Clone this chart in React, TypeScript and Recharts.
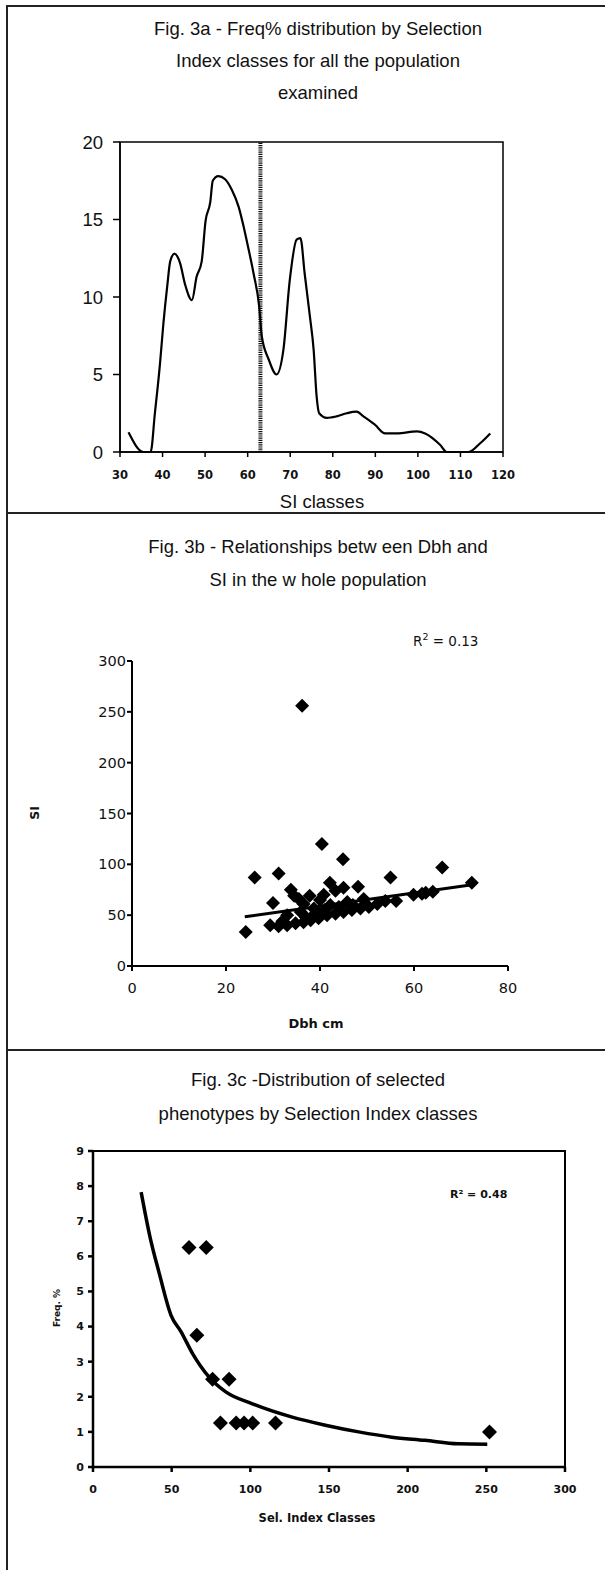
import React from "react";
import {
  LineChart,
  Line,
  ScatterChart,
  Scatter,
  XAxis,
  YAxis,
  ReferenceLine,
  ReferenceArea,
} from "recharts";

// Fig. 3a - freq% curve traced along SI classes
const siClass = [
  32.0, 35.5, 37.2, 38.2, 39.4, 40.2, 41.1, 41.8, 42.8, 44.1, 45.3, 46.9, 48.0, 49.2, 50.1, 51.2,
  51.8, 53.1, 54.7, 56.3, 57.9, 59.0, 60.2, 61.4, 62.7, 63.3, 64.9, 66.8, 68.4, 69.9, 71.5, 72.4,
  73.4, 74.6, 75.5, 76.2, 76.8, 78.6, 80.9, 83.3, 85.6, 87.2, 89.9, 92.3, 95.1, 99.8, 101.7, 105.2,
  106.8, 111.9, 114.7, 117.0,
];
const freqPct = [
  1.27, 0, 0, 2.5, 5.7, 8.3, 10.7, 12.3, 12.8, 12.2, 10.8, 9.8, 11.3, 12.3, 14.9, 16.1,
  17.5, 17.8, 17.6, 16.9, 15.8, 14.6, 13.1, 11.5, 9.4, 7.5, 6.0, 5.0, 6.6, 11.1, 13.7, 13.8,
  11.5, 8.8, 6.6, 3.6, 2.5, 2.2, 2.3, 2.5, 2.6, 2.3, 1.76, 1.2, 1.2, 1.33, 1.2, 0.47,
  0, 0, 0.58, 1.2,
];
const siCut = 63;
const siTicks = [30, 40, 50, 60, 70, 80, 90, 100, 110, 120];
const freqTicks = [0, 5, 10, 15, 20];

// Fig. 3b - Dbh vs SI
const dbh = [
  36.2, 40.4, 44.9, 66.0, 26.1, 31.2, 55.0, 72.3, 42.1, 45.0, 48.1, 33.8, 34.5, 37.8, 40.8, 43.3,
  30.0, 24.2, 53.9, 56.2, 59.9, 61.7, 62.5, 64.0, 29.4, 31.2, 33.0, 34.8, 36.5, 38.0, 39.7, 41.5,
  43.3, 45.0, 46.8, 48.6, 50.4, 52.2, 33.0, 35.9, 38.7, 42.2, 45.8, 49.3, 36.5, 40.0, 35.5, 41.0,
  44.0, 47.0, 32.0, 37.0, 39.0,
];
const si = [
  256, 120, 105, 97, 87, 91, 87, 82, 82, 77, 78, 75, 69, 69, 70, 74,
  62, 33.5, 64, 64, 70, 71, 72, 73, 40, 39, 40, 42, 43, 45, 47, 50,
  51.5, 53, 55, 56.5, 58, 61, 50, 53, 56.5, 60, 63, 66, 61, 65, 66, 55,
  58, 60, 44, 48, 52,
];
const dbhTrendX = [24, 72];
const dbhTrendY = [48.4, 79.6];
const dbhTicks = [0, 20, 40, 60, 80];
const siTicks2 = [0, 50, 100, 150, 200, 250, 300];

// Fig. 3c - selected phenotypes
const selClass = [61, 72, 66, 76, 86.5, 81, 91, 96, 101.5, 116, 252];
const selFreq = [6.25, 6.25, 3.75, 2.5, 2.5, 1.25, 1.25, 1.25, 1.25, 1.25, 1.0];
const fitX = [30.6, 36, 42.2, 49.6, 56, 63.3, 73.8, 84.4, 101.3, 126.6, 147.7, 168.8, 189.9, 211, 232, 250.6];
const fitY = [7.83, 6.6, 5.5, 4.32, 3.85, 3.23, 2.56, 2.14, 1.8, 1.42, 1.19, 1.0, 0.85, 0.76, 0.66, 0.65];
const selTicks = [0, 50, 100, 150, 200, 250, 300];
const selFreqTicks = [0, 1, 2, 3, 4, 5, 6, 7, 8, 9];

const zip = (xs: number[], ys: number[]) => xs.map((x, i) => ({ x, y: ys[i] }));

const curveData = zip(siClass, freqPct);
const dbhData = zip(dbh, si);
const dbhTrend = zip(dbhTrendX, dbhTrendY);
const selData = zip(selClass, selFreq);
const fitData = zip(fitX, fitY);

const diamond = (r: number) => (p: any) => {
  const { cx, cy } = p;
  if (cx == null || cy == null) return <g />;
  return (
    <polygon
      points={`${cx},${cy - r} ${cx + r},${cy} ${cx},${cy + r} ${cx - r},${cy}`}
      fill="#000"
    />
  );
};

const noDot = () => <g />;

const ARIAL = "'Liberation Sans', Arial, sans-serif";
const VERD = "'DejaVu Sans', Verdana, sans-serif";

const abs = (top: number, extra: React.CSSProperties = {}): React.CSSProperties => ({
  position: "absolute",
  top,
  ...extra,
});

function Title({ top, lh, lines }: { top: number; lh: number; lines: string[] }) {
  return (
    <div
      style={abs(top, {
        left: 6,
        width: 624,
        textAlign: "center",
        fontFamily: ARIAL,
        fontSize: 18.5,
        lineHeight: `${lh}px`,
        color: "#111",
      })}
    >
      {lines.map((l, i) => (
        <div key={i}>{l}</div>
      ))}
    </div>
  );
}

export default function App() {
  return (
    <div
      style={{
        position: "absolute",
        left: 0,
        top: 0,
        width: 605,
        height: 1570,
        overflow: "hidden",
        background: "#fff",
      }}
    >
      {/* frame */}
      <div style={abs(5, { left: 6, width: 1.5, height: 1570, background: "#222" })} />
      <div style={abs(5, { left: 6, width: 600, height: 1.5, background: "#222" })} />
      <div style={abs(512, { left: 6, width: 600, height: 1.5, background: "#222" })} />
      <div style={abs(1049, { left: 6, width: 600, height: 1.5, background: "#222" })} />

      <Title
        top={13}
        lh={32}
        lines={[
          "Fig. 3a - Freq% distribution by Selection",
          "Index classes for all the population",
          "examined",
        ]}
      />

      <div style={abs(130, { left: 0 })}>
        <LineChart
          width={605}
          height={360}
          data={curveData}
          margin={{ top: 12, right: 102, bottom: 8, left: 0 }}
        >
          <XAxis
            type="number"
            dataKey="x"
            domain={[30, 120]}
            ticks={siTicks}
            height={30}
            stroke="#000"
            strokeWidth={1.5}
            tickSize={5}
            tickMargin={14}
            tick={{ fontSize: 11.5, fontFamily: VERD, fontWeight: "bold", fill: "#111" }}
          />
          <YAxis
            type="number"
            domain={[0, 20]}
            ticks={freqTicks}
            width={120}
            stroke="#000"
            strokeWidth={1.5}
            tickSize={7}
            tickMargin={10}
            tick={{ fontSize: 18.5, fontFamily: ARIAL, fill: "#111" }}
          />
          <ReferenceArea x1={30} x2={120} y1={0} y2={20} fill="none" stroke="#000" strokeWidth={1.5} />
          <ReferenceLine x={siCut} stroke="#111" strokeWidth={4} strokeDasharray="1.2 1" />
          <Line
            type="monotone"
            dataKey="y"
            stroke="#000"
            strokeWidth={2.2}
            dot={false}
            isAnimationActive={false}
          />
        </LineChart>
      </div>

      <div
        style={abs(490, {
          left: 222,
          width: 200,
          textAlign: "center",
          fontFamily: ARIAL,
          fontSize: 18.5,
          lineHeight: "24px",
          color: "#111",
        })}
      >
        SI classes
      </div>

      <Title
        top={530}
        lh={33}
        lines={["Fig. 3b - Relationships betw een Dbh and", "SI in the w hole population"]}
      />

      <div
        style={abs(628, {
          left: 413,
          fontFamily: VERD,
          fontSize: 13.5,
          lineHeight: "18px",
          color: "#111",
          whiteSpace: "nowrap",
        })}
      >
        R<sup style={{ fontSize: 9.5 }}>2</sup> = 0.13
      </div>

      <div style={abs(640, { left: 0 })}>
        <ScatterChart width={605} height={400} margin={{ top: 21, right: 97, bottom: 44, left: 0 }}>
          <XAxis
            type="number"
            dataKey="x"
            domain={[0, 80]}
            ticks={dbhTicks}
            height={30}
            stroke="#000"
            strokeWidth={2}
            tickSize={5}
            tickMargin={12}
            tick={{ fontSize: 14.5, fontFamily: VERD, fill: "#111" }}
          />
          <YAxis
            type="number"
            dataKey="y"
            domain={[0, 300]}
            ticks={siTicks2}
            width={132}
            stroke="#000"
            strokeWidth={2}
            tickSize={5}
            tickMargin={1}
            tick={{ fontSize: 14.5, fontFamily: VERD, fill: "#111" }}
          />
          <Scatter data={dbhData} shape={diamond(7)} isAnimationActive={false} />
          <Scatter
            data={dbhTrend}
            shape={noDot}
            line={{ stroke: "#000", strokeWidth: 3 }}
            isAnimationActive={false}
          />
        </ScatterChart>
      </div>

      <div
        style={abs(803, {
          left: 25,
          width: 20,
          height: 20,
          fontFamily: VERD,
          fontWeight: "bold",
          fontSize: 12.5,
          lineHeight: "20px",
          textAlign: "center",
          transform: "rotate(-90deg)",
          color: "#111",
        })}
      >
        SI
      </div>

      <div
        style={abs(1014, {
          left: 256,
          width: 120,
          textAlign: "center",
          fontFamily: VERD,
          fontWeight: "bold",
          fontSize: 13,
          lineHeight: "20px",
          color: "#111",
        })}
      >
        Dbh cm
      </div>

      <Title
        top={1063}
        lh={34}
        lines={["Fig. 3c -Distribution of selected", "phenotypes by Selection Index classes"]}
      />

      <div
        style={abs(1187, {
          left: 450,
          fontFamily: VERD,
          fontWeight: "bold",
          fontSize: 11,
          lineHeight: "16px",
          color: "#111",
          whiteSpace: "nowrap",
        })}
      >
        R² = 0.48
      </div>

      <div style={abs(1130, { left: 0 })}>
        <ScatterChart width={605} height={420} margin={{ top: 21, right: 40, bottom: 53, left: 0 }}>
          <XAxis
            type="number"
            dataKey="x"
            domain={[0, 300]}
            ticks={selTicks}
            height={30}
            stroke="#000"
            strokeWidth={2.5}
            tickSize={5}
            tickMargin={13}
            tick={{ fontSize: 11, fontFamily: VERD, fontWeight: "bold", fill: "#111" }}
          />
          <YAxis
            type="number"
            dataKey="y"
            domain={[0, 9]}
            ticks={selFreqTicks}
            width={93}
            stroke="#000"
            strokeWidth={2.5}
            tickSize={5}
            tickMargin={4}
            tick={{ fontSize: 11, fontFamily: VERD, fontWeight: "bold", fill: "#111" }}
          />
          <ReferenceArea x1={0} x2={300} y1={0} y2={9} fill="none" stroke="#000" strokeWidth={2} />
          <Scatter
            data={fitData}
            shape={noDot}
            line={{ stroke: "#000", strokeWidth: 3.5 }}
            lineJointType="monotoneX"
            isAnimationActive={false}
          />
          <Scatter data={selData} shape={diamond(7.5)} isAnimationActive={false} />
        </ScatterChart>
      </div>

      <div
        style={abs(1298, {
          left: 22,
          width: 70,
          height: 20,
          fontFamily: VERD,
          fontWeight: "bold",
          fontSize: 9,
          lineHeight: "20px",
          textAlign: "center",
          transform: "rotate(-90deg)",
          color: "#111",
        })}
      >
        Freq. %
      </div>

      <div
        style={abs(1509, {
          left: 237,
          width: 160,
          textAlign: "center",
          fontFamily: VERD,
          fontWeight: "bold",
          fontSize: 11.5,
          lineHeight: "18px",
          color: "#111",
        })}
      >
        Sel. Index Classes
      </div>
    </div>
  );
}
